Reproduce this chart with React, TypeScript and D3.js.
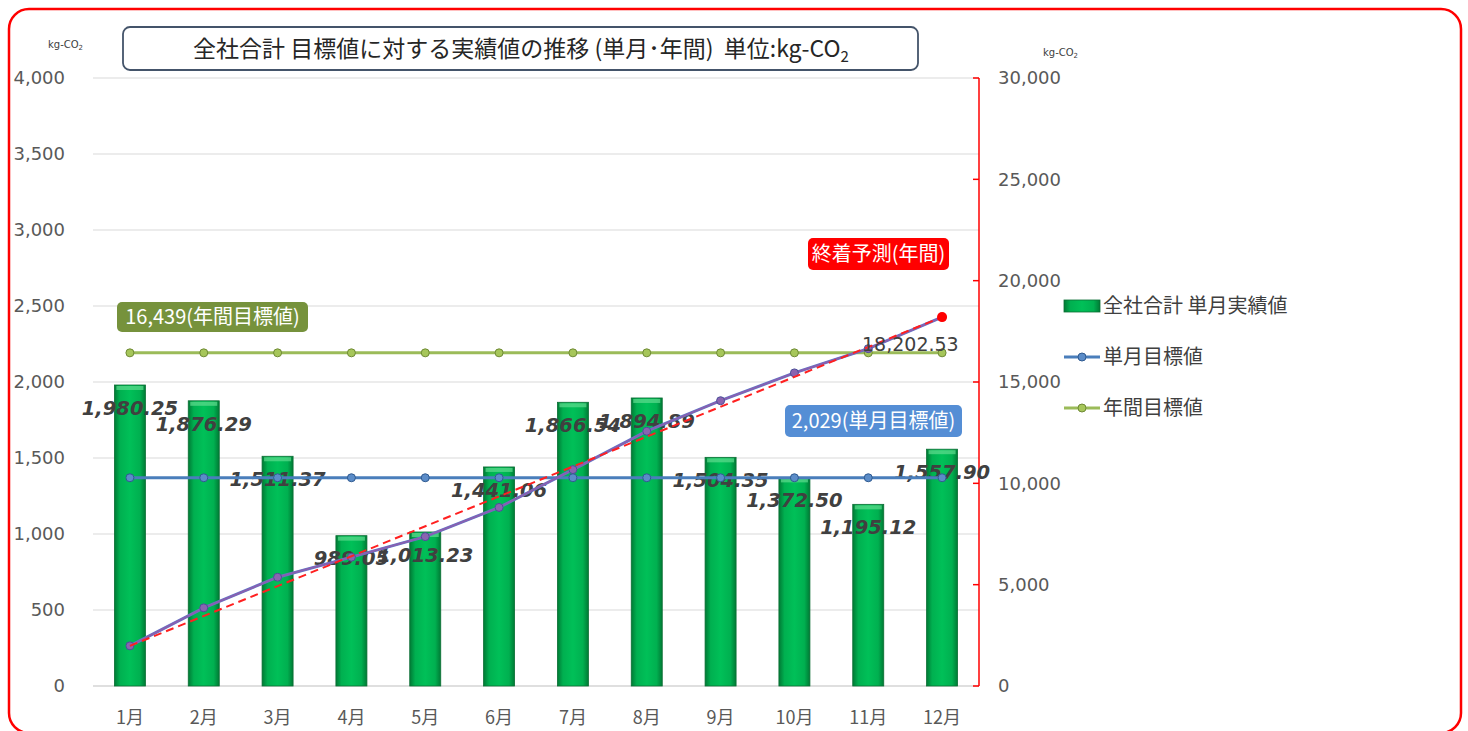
import React, { useEffect, useRef } from 'react';
import * as d3 from 'd3';

const months = ['1月', '2月', '3月', '4月', '5月', '6月', '7月', '8月', '9月', '10月', '11月', '12月'];
const monthlyActual = [1980.25, 1876.29, 1511.37, 989.05, 1013.23, 1441.06, 1866.54, 1894.89, 1504.35, 1372.5, 1195.12, 1557.9];
const monthlyTarget = [1370, 1370, 1370, 1370, 1370, 1370, 1370, 1370, 1370, 1370, 1370, 1370];
const annualTarget = [16439, 16439, 16439, 16439, 16439, 16439, 16439, 16439, 16439, 16439, 16439, 16439];
const cumulativeActual = [1980.25, 3856.54, 5367.91, 6356.96, 7370.19, 8811.25, 10677.79, 12572.68, 14077.03, 15449.53, 16644.65, 18202.53];
const forecastMonths = ['1月', '12月'];
const forecastValues = [1980.25, 18202.53];
const leftTicks = [0, 500, 1000, 1500, 2000, 2500, 3000, 3500, 4000];
const rightTicks = [0, 5000, 10000, 15000, 20000, 25000, 30000];
const legendItems = ['全社合計 単月実績値', '単月目標値', '年間目標値'];

const FONT = "'DejaVu Sans', 'Noto Sans CJK JP', sans-serif";
const JP = "'Noto Sans CJK JP', 'DejaVu Sans', sans-serif";

const App = () => {
  const ref = useRef<SVGSVGElement>(null);
  const dim = { width: 1468, height: 731, left: 93, right: 979, top: 78, bottom: 686 };

  useEffect(() => {
    const svg = d3.select(ref.current);
    svg.selectAll('*').remove();

    const defs = svg.append('defs');
    const grad = defs.append('linearGradient').attr('id', 'barGrad').attr('x1', 0).attr('x2', 1).attr('y1', 0).attr('y2', 0);
    grad.append('stop').attr('offset', '0%').attr('stop-color', '#007a35');
    grad.append('stop').attr('offset', '18%').attr('stop-color', '#00b050');
    grad.append('stop').attr('offset', '50%').attr('stop-color', '#00c058');
    grad.append('stop').attr('offset', '82%').attr('stop-color', '#00b050');
    grad.append('stop').attr('offset', '100%').attr('stop-color', '#007a35');

    svg.append('rect').attr('width', dim.width).attr('height', dim.height).attr('fill', '#fff');

    // scales
    const x = d3.scaleBand<string>().domain(months).range([dim.left, dim.right]);
    const cx = (m: string) => (x(m) as number) + x.bandwidth() / 2;
    const yL = d3.scaleLinear().domain([0, 4000]).range([dim.bottom, dim.top]);
    const yR = d3.scaleLinear().domain([0, 30000]).range([dim.bottom, dim.top]);

    // gridlines + left axis labels
    svg.append('g').selectAll('line').data(leftTicks).join('line')
      .attr('x1', dim.left).attr('x2', dim.right)
      .attr('y1', d => yL(d)).attr('y2', d => yL(d))
      .attr('stroke', d => d === 0 ? '#bfbfbf' : '#d9d9d9').attr('stroke-width', 1.2);
    svg.append('g').selectAll('text').data(leftTicks).join('text')
      .attr('x', 65).attr('y', d => yL(d)).attr('dy', '0.35em')
      .attr('text-anchor', 'end').attr('font-family', FONT).attr('font-size', 18).attr('fill', '#595959')
      .text(d => d3.format(',')(d));

    // right axis
    const ra = svg.append('g');
    ra.append('line').attr('x1', dim.right).attr('x2', dim.right).attr('y1', dim.top).attr('y2', dim.bottom)
      .attr('stroke', '#ff0000').attr('stroke-width', 1.5);
    ra.selectAll('line.tk').data(rightTicks).join('line').attr('class', 'tk')
      .attr('x1', dim.right - 6).attr('x2', dim.right).attr('y1', d => yR(d)).attr('y2', d => yR(d))
      .attr('stroke', '#ff0000').attr('stroke-width', 1.5);
    ra.selectAll('text').data(rightTicks).join('text')
      .attr('x', 998).attr('y', d => yR(d)).attr('dy', '0.35em')
      .attr('font-family', FONT).attr('font-size', 18).attr('fill', '#595959')
      .text(d => d3.format(',')(d));

    // x labels
    svg.append('g').selectAll('text').data(months).join('text')
      .attr('x', d => cx(d)).attr('y', 718).attr('dy', '0.35em').attr('text-anchor', 'middle')
      .attr('font-family', JP).attr('font-size', 18).attr('fill', '#595959')
      .text(d => d);

    // bars
    const bw = x.bandwidth() * 0.42;
    svg.append('g').selectAll('rect').data(monthlyActual).join('rect')
      .attr('x', (d, i) => cx(months[i]) - bw / 2).attr('width', bw)
      .attr('y', d => yL(d)).attr('height', d => dim.bottom - yL(d))
      .attr('fill', 'url(#barGrad)').attr('stroke', '#0b6e34').attr('stroke-width', 0.8);
    svg.append('g').selectAll('rect').data(monthlyActual).join('rect')
      .attr('x', (d, i) => cx(months[i]) - bw / 2 + 2).attr('width', bw - 4)
      .attr('y', d => yL(d) + 1).attr('height', 4)
      .attr('fill', '#5fdc8f').attr('opacity', 0.7);

    // bar labels
    svg.append('g').selectAll('text').data(monthlyActual).join('text')
      .attr('x', (d, i) => cx(months[i])).attr('y', d => yL(d) + 23).attr('dy', '0.35em')
      .attr('text-anchor', 'middle').attr('font-family', FONT).attr('font-size', 19.5)
      .attr('font-weight', 'bold').attr('font-style', 'italic').attr('fill', '#404040')
      .text(d => d3.format(',.2f')(d));

    const drawLine = (vals: number[], cats: string[], scale: d3.ScaleLinear<number, number>, color: string, width: number) => {
      const line = d3.line<number>().x((d, i) => cx(cats[i])).y(d => scale(d));
      svg.append('path').datum(vals).attr('d', line).attr('fill', 'none')
        .attr('stroke', color).attr('stroke-width', width);
    };
    const drawMarkers = (vals: number[], scale: d3.ScaleLinear<number, number>, fill: string, stroke: string) => {
      svg.append('g').selectAll('circle').data(vals).join('circle')
        .attr('cx', (d, i) => cx(months[i])).attr('cy', d => scale(d)).attr('r', 4)
        .attr('fill', fill).attr('stroke', stroke).attr('stroke-width', 1);
    };

    // annual target (right axis)
    drawLine(annualTarget, months, yR, '#9bbb59', 3);
    drawMarkers(annualTarget, yR, '#a6c65a', '#6f8a35');
    // monthly target (left axis)
    drawLine(monthlyTarget, months, yL, '#4a7ebb', 3);
    drawMarkers(monthlyTarget, yL, '#5b8cc8', '#2f5a90');
    // cumulative actual (right axis)
    drawLine(cumulativeActual, months, yR, '#5f78c8', 3);
    drawLine(cumulativeActual, months, yR, '#8a5fb0', 1.8);
    drawMarkers(cumulativeActual, yR, '#8a64b0', '#4b4f99');
    // forecast
    const fl = d3.line<number>().x((d, i) => cx(forecastMonths[i])).y(d => yR(d));
    svg.append('path').datum(forecastValues).attr('d', fl).attr('fill', 'none')
      .attr('stroke', '#ff2020').attr('stroke-width', 2).attr('stroke-dasharray', '8,5');
    svg.append('circle').attr('cx', cx(forecastMonths[1])).attr('cy', yR(forecastValues[1])).attr('r', 5)
      .attr('fill', '#ff0000');
    svg.append('text').attr('x', 862).attr('y', yR(forecastValues[1]) + 27).attr('dy', '0.35em')
      .attr('font-family', FONT).attr('font-size', 19).attr('fill', '#404040')
      .text(d3.format(',.2f')(forecastValues[1]));

    // annotation boxes
    const callout = (bx: number, by: number, bwid: number, bh: number, fill: string, label: string) => {
      svg.append('rect').attr('x', bx).attr('y', by).attr('width', bwid).attr('height', bh).attr('rx', 5)
        .attr('fill', fill);
      svg.append('text').attr('x', bx + bwid / 2).attr('y', by + bh / 2).attr('dy', '0.35em')
        .attr('text-anchor', 'middle').attr('font-family', JP).attr('font-size', 20).attr('fill', '#fff')
        .text(label);
    };
    callout(117, 302, 191, 30, '#76923c', '16,439(年間目標値)');
    callout(808, 238, 141, 32, '#ff0000', '終着予測(年間)');
    callout(785, 405, 177, 32, '#558ed5', '2,029(単月目標値)');

    // title box
    svg.append('rect').attr('x', 123).attr('y', 27).attr('width', 795).attr('height', 43).attr('rx', 7)
      .attr('fill', '#fff').attr('stroke', '#44546a').attr('stroke-width', 1.8);
    const title = svg.append('text').attr('x', 521).attr('y', 49).attr('dy', '0.35em')
      .attr('text-anchor', 'middle').attr('font-family', JP).attr('font-size', 23).attr('fill', '#262626')
      .style('white-space', 'pre');
    title.append('tspan').text('全社合計 目標値に対する実績値の推移 (単月･年間)  単位:kg-CO');
    title.append('tspan').attr('font-size', 15).attr('dy', 5).text('2');

    // unit labels
    const unit = (ux: number, uy: number) => {
      const t = svg.append('text').attr('x', ux).attr('y', uy).attr('font-family', FONT)
        .attr('font-size', 10).attr('fill', '#404040');
      t.append('tspan').text('kg-CO');
      t.append('tspan').attr('font-size', 7).attr('dy', 2).text('2');
    };
    unit(48, 48);
    unit(1043, 56);

    // legend
    const lg = svg.append('g');
    const ly = [306, 357, 408];
    lg.append('rect').attr('x', 1064).attr('y', ly[0] - 6).attr('width', 36).attr('height', 12)
      .attr('fill', 'url(#barGrad)').attr('stroke', '#0b6e34').attr('stroke-width', 0.8);
    lg.append('line').attr('x1', 1064).attr('x2', 1100).attr('y1', ly[1]).attr('y2', ly[1])
      .attr('stroke', '#4a7ebb').attr('stroke-width', 3);
    lg.append('circle').attr('cx', 1082).attr('cy', ly[1]).attr('r', 4).attr('fill', '#5b8cc8').attr('stroke', '#2f5a90');
    lg.append('line').attr('x1', 1064).attr('x2', 1100).attr('y1', ly[2]).attr('y2', ly[2])
      .attr('stroke', '#9bbb59').attr('stroke-width', 3);
    lg.append('circle').attr('cx', 1082).attr('cy', ly[2]).attr('r', 4).attr('fill', '#a6c65a').attr('stroke', '#6f8a35');
    lg.selectAll('text').data(legendItems).join('text')
      .attr('x', 1103).attr('y', (d, i) => ly[i]).attr('dy', '0.35em')
      .attr('font-family', JP).attr('font-size', 20).attr('fill', '#404040')
      .text(d => d);

    // outer border
    svg.append('rect').attr('x', 9).attr('y', 9).attr('width', 1452).attr('height', 724).attr('rx', 20)
      .attr('fill', 'none').attr('stroke', '#ff0000').attr('stroke-width', 2.5);
  }, []);

  return (
    <div id="chartArea" style={{ position: 'absolute', left: 0, top: 0 }}>
      <svg ref={ref} width={dim.width} height={dim.height} style={{ display: 'block' }} />
    </div>
  );
};

export default App;
